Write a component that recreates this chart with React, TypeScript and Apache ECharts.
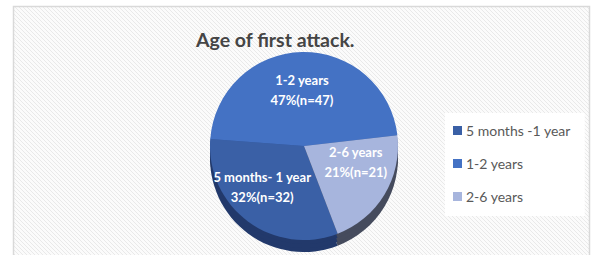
import React, { useEffect, useRef } from "react";
import * as echarts from "echarts";

const categories = ["5 months -1 year", "1-2 years", "2-6 years"];
const sliceLabels = ["5 months- 1 year", "1-2 years", "2-6 years"];
const counts = [32, 47, 21];
const percents = [32, 47, 21];
const topColors = ["#3A60A6", "#4472C4", "#A7B5DD"];
const sideColors = ["#22396B", "#2E4F8C", "#454B5D"];
const titleText = "Age of first attack.";

function makeHatch(): HTMLCanvasElement {
  const c = document.createElement("canvas");
  c.width = 4;
  c.height = 4;
  const ctx = c.getContext("2d")!;
  ctx.fillStyle = "#fbfbfb";
  ctx.fillRect(0, 0, 4, 4);
  ctx.fillStyle = "#e9e9e9";
  for (let i = 0; i < 4; i++) ctx.fillRect(i, i, 1, 1);
  return c;
}

export default function App() {
  const ref = useRef<HTMLDivElement>(null);
  useEffect(() => {
    document.body.style.margin = "0";
    const chart = echarts.init(ref.current!, undefined, { renderer: "svg" });
    const cx = 304;
    const cy = 146;
    const r = 94;
    const startAngle = -69;
    const labelShift = [
      [-12, 1],
      [-1, -6],
      [9, -10],
    ];
    const sideLayers = [12, 8, 4];
    const sideSeries = sideLayers.map((off) => ({
      type: "pie",
      silent: true,
      z: 1,
      center: [cx, cy + off],
      radius: [0, r],
      startAngle,
      clockwise: true,
      label: { show: false },
      labelLine: { show: false },
      itemStyle: { borderWidth: 0 },
      emphasis: { disabled: true },
      data: counts.map((v, i) => ({
        value: v,
        name: "side" + i,
        itemStyle: { color: sideColors[i] },
      })),
    }));
    chart.setOption({
      animation: false,
      graphic: [
        {
          type: "rect",
          z: -10,
          shape: { x: 13.5, y: 6.5, width: 576, height: 270 },
          style: {
            fill: { image: makeHatch(), repeat: "repeat" } as any,
            stroke: "#d9d9d9",
            lineWidth: 1.5,
          },
        },
        {
          type: "text",
          z: 10,
          left: 196,
          top: 29,
          style: {
            text: titleText,
            fill: "#454545",
            font: "bold 19.5px Lato",
          },
        },
      ],
      legend: {
        orient: "vertical",
        left: 445,
        top: 113,
        padding: [9, 14, 11, 8],
        backgroundColor: "#ffffff",
        itemWidth: 9,
        itemHeight: 9,
        itemGap: 16,
        icon: "rect",
        selectedMode: false,
        textStyle: {
          fontFamily: "Lato",
          fontSize: 14,
          color: "#595959",
          lineHeight: 17,
          padding: [0, 0, 0, -1],
        },
        data: categories.map((n, i) => ({
          name: n,
          itemStyle: { color: topColors[i] },
        })),
      },
      series: [
        ...sideSeries,
        {
          type: "pie",
          silent: true,
          z: 3,
          center: [cx, cy],
          radius: [0, r],
          startAngle,
          clockwise: true,
          itemStyle: { borderWidth: 0 },
          emphasis: { disabled: true },
          label: {
            show: true,
            position: "inside",
            color: "#ffffff",
            fontFamily: "Lato",
            fontWeight: "bold",
            fontSize: 13,
            lineHeight: 20,
            formatter: (p: any) =>
              `${sliceLabels[p.dataIndex]}\n${percents[p.dataIndex]}%(n=${counts[p.dataIndex]})`,
          },
          labelLayout: (p: any) => ({
            dx: labelShift[p.dataIndex][0],
            dy: labelShift[p.dataIndex][1],
          }),
          labelLine: { show: false },
          data: counts.map((v, i) => ({
            value: v,
            name: categories[i],
            itemStyle: { color: topColors[i] },
          })),
        },
      ],
    });
    return () => chart.dispose();
  }, []);
  return <div ref={ref} style={{ width: 592, height: 255 }} />;
}
